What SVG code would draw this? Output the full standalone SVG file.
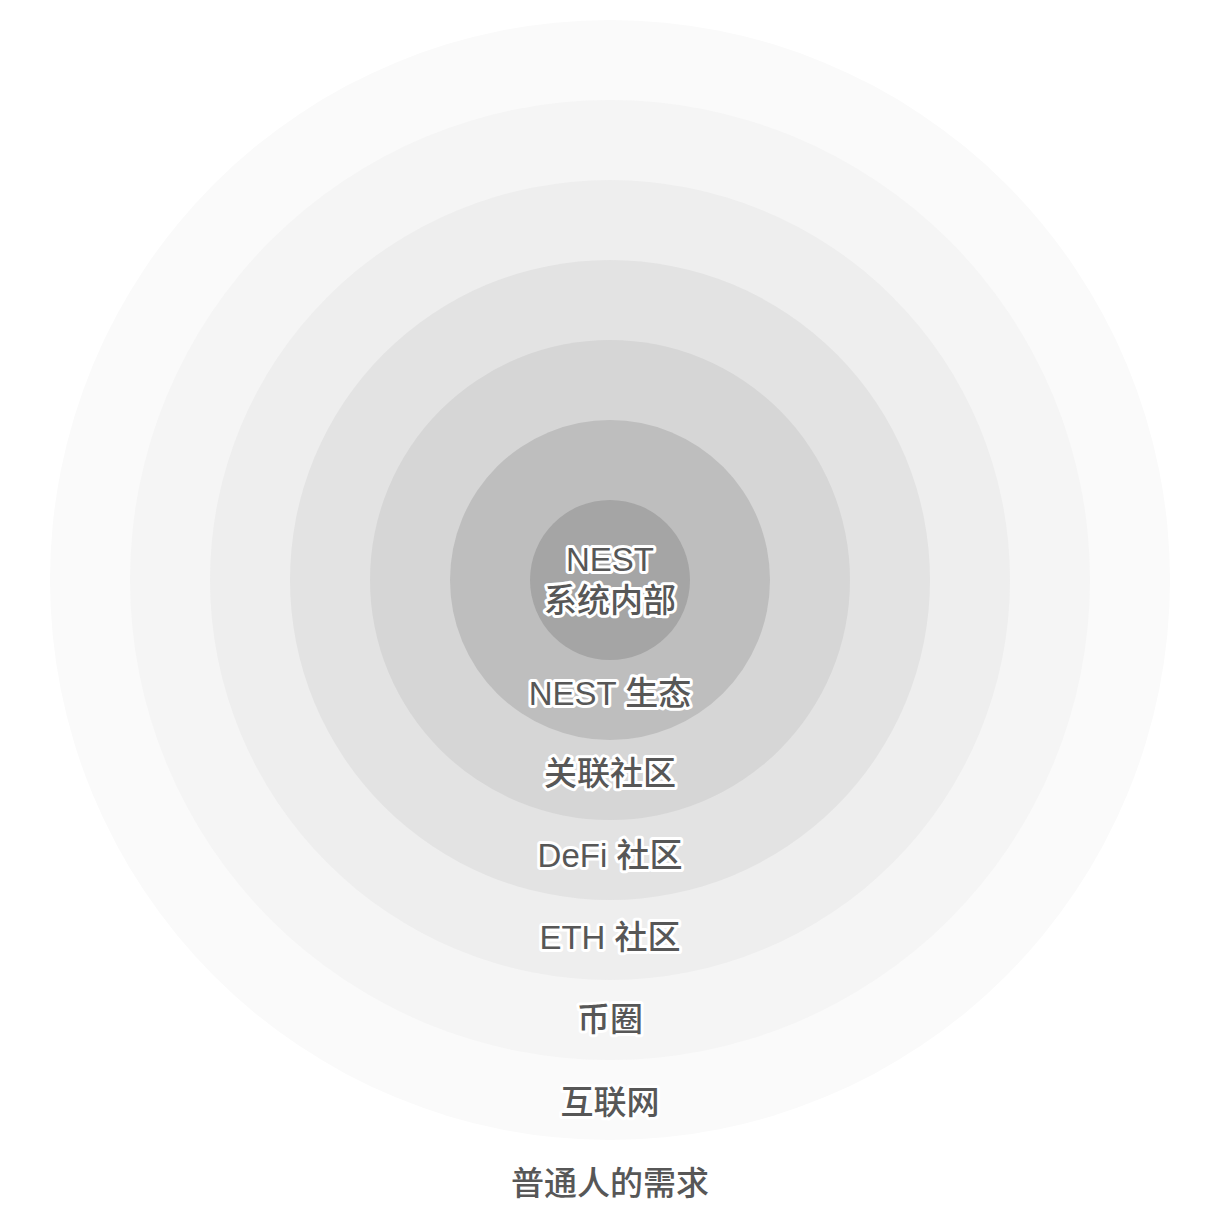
<svg xmlns="http://www.w3.org/2000/svg" width="1220" height="1220" viewBox="0 0 1220 1220">
<style>
.lbl{font-family:"Liberation Sans","Noto Sans CJK SC",sans-serif;font-size:33px;font-weight:500;fill:#575757;stroke:#ffffff;stroke-width:6px;stroke-linejoin:round;paint-order:stroke;text-anchor:middle}
</style>
<rect width="1220" height="1220" fill="#ffffff"/>
<g id="ring-people"><circle cx="610" cy="580" r="560" fill="#fafafa"/></g>
<g id="ring-internet"><circle cx="610" cy="580" r="480" fill="#f5f5f5"/></g>
<g id="ring-crypto"><circle cx="610" cy="580" r="400" fill="#eeeeee"/></g>
<g id="ring-eth"><circle cx="610" cy="580" r="320" fill="#e3e3e3"/></g>
<g id="ring-defi"><circle cx="610" cy="580" r="240" fill="#d6d6d6"/></g>
<g id="ring-related"><circle cx="610" cy="580" r="160" fill="#bebebe"/></g>
<g id="ring-core"><circle cx="610" cy="580" r="80" fill="#a5a5a5"/></g>
<g id="labels">
<text class="lbl" x="610" y="571">NEST</text>
<text class="lbl" x="610" y="612">系统内部</text>
<text class="lbl" x="610" y="705">NEST 生态</text>
<text class="lbl" x="610" y="785">关联社区</text>
<text class="lbl" x="610" y="867">DeFi 社区</text>
<text class="lbl" x="610" y="949">ETH 社区</text>
<text class="lbl" x="610" y="1031">币圈</text>
<text class="lbl" x="610" y="1114">互联网</text>
<text class="lbl" x="610" y="1195">普通人的需求</text>
</g>
</svg>
